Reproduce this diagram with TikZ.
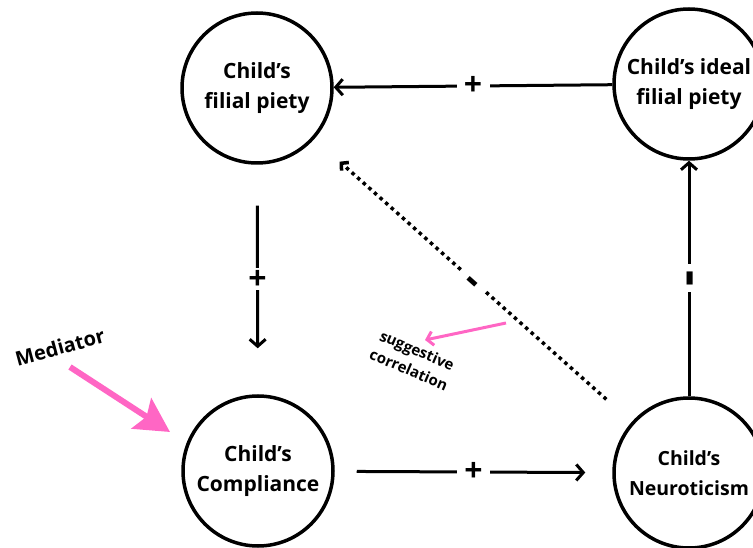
\documentclass[tikz,border=0pt]{standalone}
\usepackage{fontspec}
\setmainfont{Open Sans}
\usetikzlibrary{arrows.meta,calc}
\definecolor{pinkc}{HTML}{FF66C4}
\begin{document}
\begin{tikzpicture}[x=1pt,y=1pt,
  var/.style={circle, draw, line width=3.5pt, minimum size=150pt, inner sep=0pt, align=center, font=\fontsize{21}{30}\selectfont\bfseries},
  conn/.style={line width=3pt, -{Straight Barb[length=7pt,width=16pt]}},
  dotconn/.style={line width=3.5pt, dash pattern=on 3.5pt off 4pt, -{Straight Barb[length=5pt,width=11pt]}},
  sign/.style={fill=white, inner sep=0pt, minimum width=33pt, minimum height=22pt, font=\fontsize{32}{32}\selectfont\bfseries},
  minus/.style={sign, minimum width=28pt, minimum height=12pt, font=\fontsize{50}{50}\selectfont\bfseries},
  pinkarrow/.style={pinkc, line width=6pt, -{Stealth[length=34pt,width=36pt,inset=6pt]}},
  pinkthin/.style={pinkc, line width=3pt, -{Straight Barb[length=6pt,width=14pt]}},
  note/.style={font=\bfseries}
]
\useasboundingbox (0,0) rectangle (753,547);
\node[var] (fp) at (257,459) {Child’s\\filial piety};
\node[var] (ifp) at (689,463) {Child’s ideal\\filial piety};
\node[var] (comp) at (258,76) {Child’s\\Compliance};
\node[var, font=\fontsize{19.5}{30}\selectfont\bfseries] (neu) at (689,74) {Child’s\\Neuroticism};

\draw[conn] (ifp) -- node[sign] {\vphantom{+}+} (fp);
\draw[conn, shorten <=41pt, shorten >=46pt] (fp) -- node[sign] {\vphantom{+}+} (comp);
\draw[conn, shorten <=22pt, shorten >=27pt] (comp) -- node[sign] {\vphantom{+}+} (neu);
\draw[conn] (neu) -- node[minus, rotate=90] {\vphantom{+}-} (ifp);
\draw[dotconn, shorten <=34pt, shorten >=34pt] (neu) -- node[minus, sloped, minimum width=30pt, font=\fontsize{40}{40}\selectfont\bfseries] {\vphantom{+}-} (fp);

\coordinate (m1) at (70,180);
\coordinate (m2) at (170,115);
\draw[pinkarrow] (m1) -- (m2);
\node[note, rotate=15, font=\fontsize{20}{20}\selectfont\bfseries] (med) at (60,200) {Mediator};

\coordinate (s1) at (506,224);
\coordinate (s2) at (425,207);
\draw[pinkthin] (s1) -- (s2);
\node[note, rotate=-23, align=center, font=\fontsize{15}{21}\selectfont\bfseries] (sug) at (413,187) {suggestive\\correlation};
\end{tikzpicture}
\end{document}
